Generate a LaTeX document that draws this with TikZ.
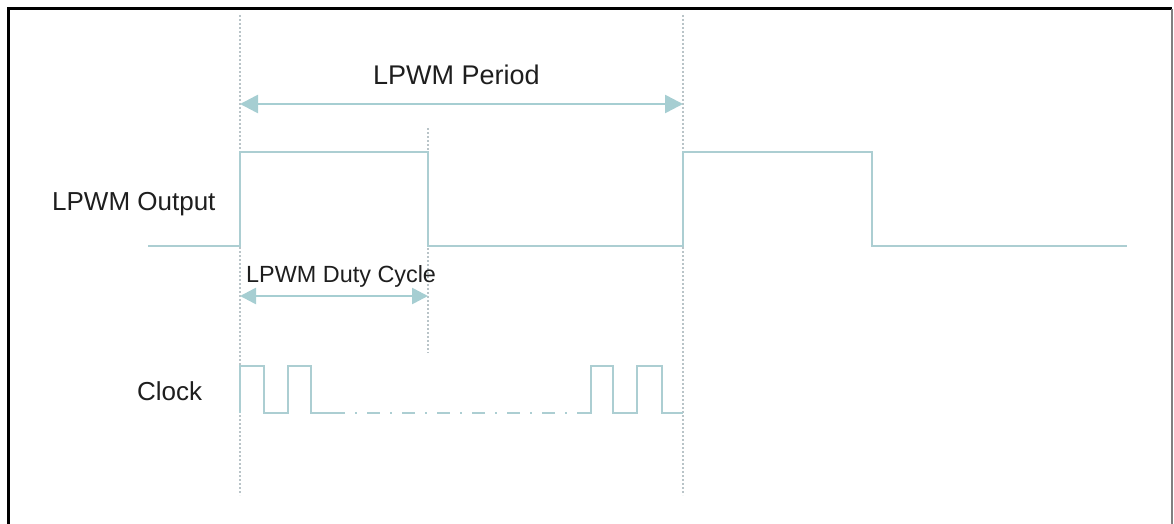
\documentclass[tikz,border=0pt]{standalone}
\usepackage{fontspec}
\setmainfont{Liberation Sans}
\usetikzlibrary{arrows.meta}
\definecolor{wave}{RGB}{172,206,210}
\definecolor{arrowc}{RGB}{166,206,210}
\definecolor{guide}{RGB}{185,196,200}
\definecolor{txt}{RGB}{30,30,30}
\tikzset{
  wavepath/.style={draw=wave, line width=2.5pt, line join=miter},
  guideline/.style={draw=guide, line width=2pt, dash pattern=on 2pt off 2pt},
  dimarrow/.style={draw=arrowc, line width=2.6pt, {Triangle[length=18pt,width=18pt,fill=arrowc]}-{Triangle[length=18pt,width=18pt,fill=arrowc]}},
  smallarrow/.style={draw=arrowc, line width=2.6pt, {Triangle[length=16pt,width=16pt,fill=arrowc]}-{Triangle[length=16pt,width=16pt,fill=arrowc]}},
  lbl/.style={inner sep=0pt, anchor=base west, text=txt},
  dashdot/.style={draw=wave, line width=2.5pt, dash pattern=on 13pt off 10pt on 2pt off 10pt, dash phase=13pt}
}
\begin{document}
\begin{tikzpicture}[x=1pt,y=-1pt]
\useasboundingbox (0,0) rectangle (1174,524);
\begin{scope}
\clip (0,0) rectangle (1174,524);
% frame
\draw[line width=3pt, black] (8,540) -- (8,9) -- (1172,9);
\draw[line width=2pt, gray] (1172,9) -- (1172,540);
\end{scope}

% guide coordinates
\coordinate (g1t) at (240,15);
\coordinate (g1b) at (240,495);
\coordinate (g2t) at (428,128);
\coordinate (g2b) at (428,353);
\coordinate (g3t) at (683,15);
\coordinate (g3b) at (683,495);
\draw[guideline] (g1t) -- (g1b);
\draw[guideline] (g2t) -- (g2b);
\draw[guideline] (g3t) -- (g3b);

% labels
\node[lbl, font=\fontsize{27}{30}\selectfont] (period) at (373,85) {LPWM Period};
\node[lbl, font=\fontsize{26}{30}\selectfont] (output) at (52,210) {LPWM Output};
\node[lbl, font=\fontsize{23.4}{28}\selectfont] (duty) at (246,282) {LPWM Duty Cycle};
\node[lbl, font=\fontsize{26}{30}\selectfont] (clock) at (137,400) {Clock};

% dimension arrows
\coordinate (pa) at (240,104);
\coordinate (pb) at (683,104);
\draw[dimarrow] (pa) -- (pb);
\coordinate (da) at (240,296);
\coordinate (db) at (428,296);
\draw[smallarrow] (da) -- (db);

% LPWM output waveform
\coordinate (ostart) at (148,246);
\coordinate (oend) at (1127,246);
\draw[wavepath] (ostart) -- (240,246) -- (240,152) -- (428,152) -- (428,246)
  -- (683,246) -- (683,152) -- (872,152) -- (872,246) -- (oend);

% clock waveform
\coordinate (cstart) at (240,413);
\coordinate (cmid1) at (345,413);
\coordinate (cmid2) at (583,413);
\coordinate (cend) at (683,413);
\draw[wavepath] (cstart) -- (240,366) -- (264,366) -- (264,413) -- (288,413)
  -- (288,366) -- (311,366) -- (311,413) -- (cmid1);
\draw[dashdot] (cmid1) -- (cmid2);
\draw[wavepath] (cmid2) -- (591,413) -- (591,366) -- (613,366) -- (613,413)
  -- (637,413) -- (637,366) -- (662,366) -- (662,413) -- (cend);
\end{tikzpicture}
\end{document}
